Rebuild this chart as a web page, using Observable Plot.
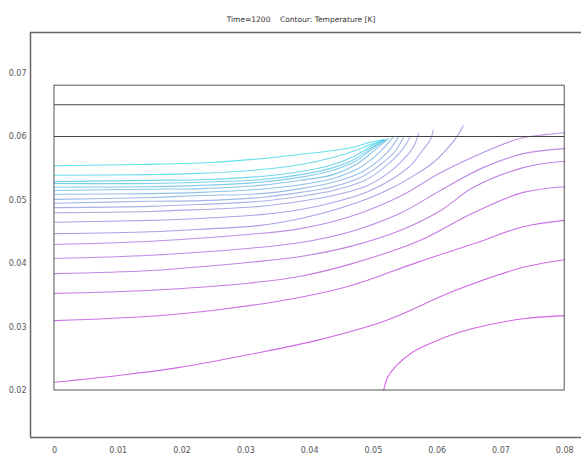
<!DOCTYPE html>
<html>
<head>
<meta charset="utf-8">
<script src="https://cdn.jsdelivr.net/npm/d3@7"></script>
<script src="https://cdn.jsdelivr.net/npm/@observablehq/plot@0.6"></script>
<style>
  html, body { margin: 0; padding: 0; background: #fff; overflow: hidden; }
  #chart svg { display: block; }
</style>
</head>
<body>
<div id="chart"></div>
<script>
// ---- data (x [m], y [m]) ----
const title = "Time=1200    Contour: Temperature [K]";
const xTicks = [0, 0.01, 0.02, 0.03, 0.04, 0.05, 0.06, 0.07, 0.08];
const yTicks = [0.02, 0.03, 0.04, 0.05, 0.06, 0.07];
const xDomain = [-0.00376, 0.0842];
const yDomain = [0.0126, 0.07638];
const domainBox = [{x1: 0, x2: 0.08, y1: 0.02, y2: 0.068}];
const layerLines = [0.06, 0.065];

// contour lines, from the coldest (cyan) to the hottest (magenta)
const c01 = [[0,0.0554],[0.0135,0.0556],[0.0245,0.0559],[0.0323,0.0565],[0.0386,0.0572],[0.0437,0.0578],[0.0472,0.0584],[0.0495,0.0591],[0.0516,0.0595]];
const c02 = [[0,0.0539],[0.0151,0.0540],[0.0229,0.0542],[0.0323,0.0548],[0.0386,0.0556],[0.0437,0.0567],[0.0472,0.0578],[0.0495,0.0587],[0.0516,0.0595]];
const c03 = [[0,0.0529],[0.0151,0.0531],[0.0229,0.0532],[0.0323,0.0537],[0.0386,0.0545],[0.0437,0.0556],[0.0472,0.0570],[0.0495,0.0584],[0.0517,0.0595]];
const c04 = [[0,0.0526],[0.0151,0.0526],[0.0229,0.0528],[0.0323,0.0532],[0.0386,0.0540],[0.0437,0.0551],[0.0472,0.0565],[0.0495,0.0581],[0.0519,0.0595]];
const c05 = [[0,0.0520],[0.0151,0.0521],[0.0229,0.0523],[0.0323,0.0528],[0.0386,0.0536],[0.0437,0.0547],[0.0472,0.0561],[0.0495,0.0578],[0.0520,0.0595]];
const c06 = [[0,0.0515],[0.0151,0.0517],[0.0229,0.0518],[0.0323,0.0523],[0.0386,0.0531],[0.0437,0.0540],[0.0473,0.0556],[0.0498,0.0575],[0.0524,0.0597]];
const c07 = [[0,0.0509],[0.0151,0.0510],[0.0229,0.0512],[0.0323,0.0517],[0.0386,0.0524],[0.0437,0.0534],[0.0477,0.0550],[0.0503,0.0569],[0.0520,0.0586],[0.0531,0.0599]];
const c08 = [[0,0.0501],[0.0151,0.0504],[0.0229,0.0507],[0.0323,0.0510],[0.0386,0.0518],[0.0437,0.0528],[0.0480,0.0543],[0.0508,0.0562],[0.0527,0.0581],[0.0539,0.0599]];
const c09 = [[0,0.0495],[0.0151,0.0498],[0.0229,0.0499],[0.0323,0.0504],[0.0386,0.0512],[0.0437,0.0521],[0.0483,0.0537],[0.0514,0.0558],[0.0535,0.0578],[0.0547,0.0599]];
const c10 = [[0,0.0488],[0.0151,0.0490],[0.0229,0.0493],[0.0323,0.0498],[0.0386,0.0506],[0.0437,0.0515],[0.0487,0.0531],[0.0519,0.0553],[0.0542,0.0575],[0.0553,0.0591],[0.0558,0.0600]];
const c11 = [[0,0.0480],[0.0151,0.0482],[0.0229,0.0485],[0.0323,0.0490],[0.0386,0.0498],[0.0437,0.0507],[0.0491,0.0523],[0.0527,0.0545],[0.0550,0.0567],[0.0564,0.0586],[0.0571,0.0605]];
const c12 = [[0,0.0465],[0.0151,0.0468],[0.0229,0.0471],[0.0323,0.0477],[0.0386,0.0485],[0.0437,0.0496],[0.0491,0.0513],[0.0531,0.0534],[0.0558,0.0554],[0.0577,0.0578],[0.0589,0.0594],[0.0594,0.0610]];
const c13 = [[0,0.0447],[0.0151,0.0450],[0.0229,0.0454],[0.0323,0.0460],[0.0386,0.0471],[0.0437,0.0484],[0.0491,0.0502],[0.0531,0.0520],[0.0569,0.0542],[0.0594,0.0559],[0.0616,0.0581],[0.0629,0.0597],[0.0641,0.0617]];
const c14 = [[0,0.0430],[0.0151,0.0435],[0.0307,0.0446],[0.0386,0.0455],[0.0464,0.0474],[0.0542,0.0506],[0.0605,0.0543],[0.0672,0.0575],[0.0730,0.0597],[0.0770,0.0603],[0.08,0.0606]];
const c15 = [[0,0.0408],[0.0151,0.0413],[0.0307,0.0424],[0.0386,0.0433],[0.0464,0.0450],[0.0542,0.0479],[0.0605,0.0515],[0.0672,0.0551],[0.0735,0.0573],[0.08,0.0581]];
const c16 = [[0,0.0384],[0.0151,0.0389],[0.0307,0.0402],[0.0386,0.0411],[0.0464,0.0427],[0.0542,0.0452],[0.0605,0.0483],[0.0657,0.0520],[0.0735,0.0551],[0.08,0.0561]];
const c17 = [[0,0.0353],[0.0151,0.0358],[0.0303,0.0369],[0.0386,0.0380],[0.0464,0.0399],[0.0572,0.0436],[0.0657,0.0480],[0.0735,0.0512],[0.08,0.0521]];
const c18 = [[0,0.0310],[0.0151,0.0317],[0.0248,0.0326],[0.0386,0.0347],[0.0464,0.0365],[0.0572,0.0403],[0.0657,0.0431],[0.0735,0.0458],[0.08,0.0468]];
const c19 = [[0,0.0213],[0.0103,0.0224],[0.0194,0.0236],[0.0307,0.0257],[0.0411,0.0279],[0.0519,0.0310],[0.0627,0.0357],[0.0735,0.0394],[0.08,0.0406]];
const c20 = [[0.0516,0.0200],[0.0522,0.0220],[0.0535,0.0238],[0.0558,0.0258],[0.0589,0.0274],[0.0636,0.0292],[0.0683,0.0304],[0.0735,0.0313],[0.08,0.0318]];

const contours = [c01,c02,c03,c04,c05,c06,c07,c08,c09,c10,c11,c12,c13,c14,c15,c16,c17,c18,c19,c20];
const table = contours.flatMap((pts, i) => pts.map(([x, y]) => ({x, y, level: i})));

const fmt = d => String(+d.toFixed(2));

const chart = Plot.plot({
  width: 581,
  height: 457,
  marginLeft: 30,
  marginRight: -10,
  marginTop: 32,
  marginBottom: 20,
  style: {fontFamily: "'DejaVu Sans', sans-serif", fontSize: "8px", background: "#fff"},
  x: {domain: xDomain},
  y: {domain: yDomain},
  color: {type: "linear", domain: [0, 9, 19], range: ["#48dce8", "#9aa4e4", "#cc48dc"], interpolate: "rgb"},
  marks: [
    Plot.line(table, {x: "x", y: "y", z: "level", stroke: "level", curve: "catmull-rom", strokeWidth: 1.1, strokeOpacity: 0.85}),
    Plot.rect(domainBox, {x1: "x1", x2: "x2", y1: "y1", y2: "y2", fill: "none", stroke: "#555", strokeWidth: 1}),
    Plot.ruleY(layerLines, {x1: domainBox[0].x1, x2: domainBox[0].x2, stroke: "#444", strokeWidth: 1}),
    Plot.ruleX([xDomain[0]], {stroke: "#666", strokeWidth: 1.5}),
    Plot.ruleY(yDomain, {stroke: "#666", strokeWidth: 1.5}),
    Plot.axisX({ticks: xTicks, tickSize: 0, tickPadding: 10, tickFormat: fmt, color: "#555", fontSize: 8}),
    Plot.axisY({ticks: yTicks, tickSize: 0, tickPadding: 4, tickFormat: fmt, color: "#555", fontSize: 8}),
    Plot.text([title], {frameAnchor: "top", dy: -16, dx: -10, fontSize: 7.5, fill: "#333"})
  ]
});
document.getElementById("chart").appendChild(chart);
</script>
</body>
</html>
